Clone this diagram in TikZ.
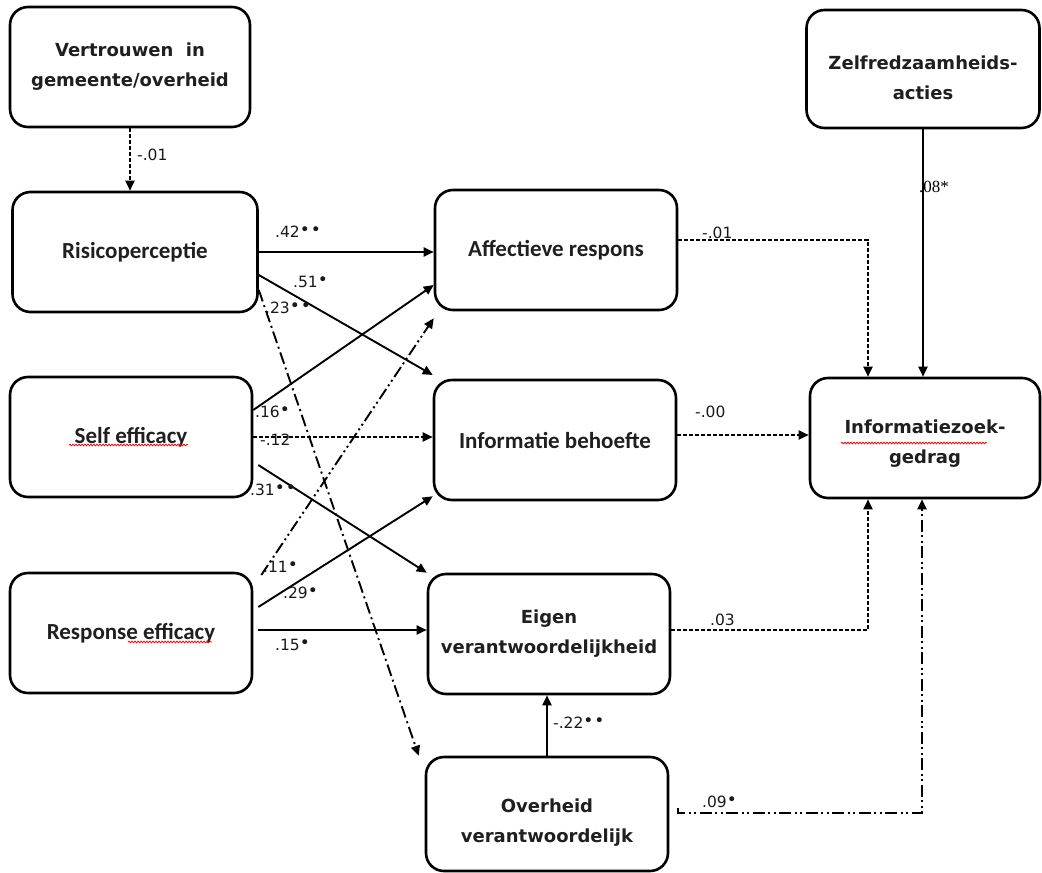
\documentclass[tikz,border=0pt]{standalone}
\usepackage{fontspec}
\usepackage{tikz}
\usetikzlibrary{arrows.meta,calc,decorations.pathmorphing}
\newfontfamily\boxfont{DejaVu Sans}
\newfontfamily\lblfont{DejaVu Sans}
\newfontfamily\calfont{Carlito}
\newfontfamily\timesfont{Liberation Serif}
\newcommand{\ster}[1]{\raisebox{2.5pt}{\fontsize{17}{17}\selectfont #1}}
\newcommand{\zakt}[1]{\rule{0pt}{#1}}
\tikzset{
  box/.style={draw, line width=2.6pt, rounded corners=18pt, minimum width=242pt,
    minimum height=120pt, align=center, text=black!88,
    font=\boxfont\bfseries\fontsize{18}{30}\selectfont},
  cbox/.style={box, font=\calfont\bfseries\fontsize{23}{28}\selectfont},
  lbl/.style={anchor=west, inner sep=0pt, text=black!90,
    font=\lblfont\fontsize{15.5}{18}\selectfont},
  arr/.style={line width=1.9pt, -{Triangle[length=10pt,width=9pt]}},
  dashedarr/.style={arr, dash pattern=on 4pt off 2pt},
  dashdotarr/.style={arr, dash pattern=on 12pt off 4pt on 2pt off 4pt},
  dashdotdotarr/.style={arr, dash pattern=on 12pt off 3.5pt on 2pt off 3.5pt on 2pt off 3.5pt},
  squiggle/.style={red, line width=.8pt, decorate,
    decoration={snake, amplitude=.8pt, segment length=3pt}}
}
\begin{document}
\begin{tikzpicture}[x=1pt,y=-1pt]
        \useasboundingbox (0,0) rectangle (1042,873);
        % The boxes.
            \node[box, minimum width=240pt] (vert) at (130,67) {Vertrouwen\ \ in\\gemeente/overheid};
            \node[cbox, minimum width=245pt] (risico) at (135,252) {Risicoperceptie};
            \node[cbox] (self) at (131,437) {Self efficacy};
            \node[cbox] (resp) at (131,633) {Response efficacy};
            \node[cbox] (aff) at (556,250) {Affectieve respons};
            \node[cbox] (infob) at (555,440) {Informatie behoefte};
            \node[box] (eigen) at (549,634) {Eigen\\verantwoordelijkheid};
            \node[box, minimum height=114pt] (overh) at (547,814) {\zakt{31pt}Overheid\\verantwoordelijk};
            \node[box, minimum width=233pt, minimum height=118pt] (zelf) at (923,69) {\zakt{32pt}Zelfredzaamheids-\\acties};
            \node[box, minimum width=230pt] (infoz) at (925,438) {\zakt{25pt}Informatiezoek-\\gedrag};
        % Spelling marks under some of the words.
            \draw[squiggle] ($(self.center)+(-62,8)$) -- ++(119,0);
            \draw[squiggle] ($(resp.center)+(-3,9)$) -- ++(84,0);
            \draw[squiggle] ($(infoz.center)+(-84,5)$) -- ++(146,0);
        % The paths.
            \draw[dashedarr] (vert.south) -- (vert.south |- risico.north);
            \draw[arr] (risico.east) -- (risico.east -| aff.west);
            \draw[arr] ($(risico.east)+(0,23)$) -- ($(infob.west)+(0,-65)$);
            \draw[dashdotarr] ($(risico.east)+(0,38)$) -- ($(overh.north west)+(-6,0)$);
            \draw[arr] ($(self.east)+(0,-27)$) -- ($(aff.west)+(0,35)$);
            \draw[dashedarr] (self.east) -- (self.east -| infob.west);
            \draw[arr] ($(self.east)+(5,28)$) -- (eigen.north west);
            \draw[arr] ($(resp.east)+(5,-26)$) -- ($(infob.south west)+(0,-5)$);
            \draw[arr] ($(resp.east)+(5,-3)$) -- ($(eigen.west)+(0,-4)$);
            \draw[dashdotdotarr] ($(resp.east)+(8,-58)$) -- ($(aff.south west)+(0,7)$);
            \draw[dashedarr] ($(aff.east)+(0,-10)$) -| ($(infoz.north)+(-57,0)$);
            \draw[dashedarr] ($(infob.east)+(0,-5)$) -- ($(infoz.west)+(0,-3)$);
            \draw[dashedarr] ($(eigen.east)+(0,-4)$) -| ($(infoz.south)+(-57,0)$);
            \draw[dashdotdotarr] ($(overh.east)+(9,-6)$) -- ++(0,5) -| ($(infoz.south)+(-3,0)$);
            \draw[arr] (zelf.south) -- (zelf.south |- infoz.north);
            \draw[arr] (overh.north) -- (overh.north |- eigen.south);
        % Below nodes are the labels.
            \node[lbl] (lvert) at (137,155) {-.01};
            \node[lbl] (lrisaff) at (275,232) {.42\ster{•\hspace{1pt}•}};
            \node[lbl] (lrisinf) at (293,282) {.51\ster{•}};
            \node[lbl] (lrisovh) at (265,308) {.23\ster{•\hspace{1pt}•}};
            \node[lbl] (lselaff) at (255,412) {.16\ster{•}};
            \node[lbl] (lselinf) at (260,440) {-.12};
            \node[lbl] (lseleig) at (250,490) {.31\ster{•\hspace{1pt}•}};
            \node[lbl] (lresaff) at (263,567) {.11\ster{•}};
            \node[lbl] (lresinf) at (283,593) {.29\ster{•}};
            \node[lbl] (lreseig) at (275,645) {.15\ster{•}};
            \node[lbl] (laffzoek) at (702,233) {-.01};
            \node[lbl] (linfzoek) at (695,412) {-.00};
            \node[lbl] (leigzoek) at (710,620) {.03};
            \node[lbl] (lovhzoek) at (702,802) {.09\ster{•}};
            \node[lbl] (lovheig) at (553,723) {-.22\ster{•\hspace{1pt}•}};
            \node[lbl, text=black, font=\timesfont\fontsize{17}{20}\selectfont] (lzelf) at (919,187) {.08*};
\end{tikzpicture}
\end{document}
